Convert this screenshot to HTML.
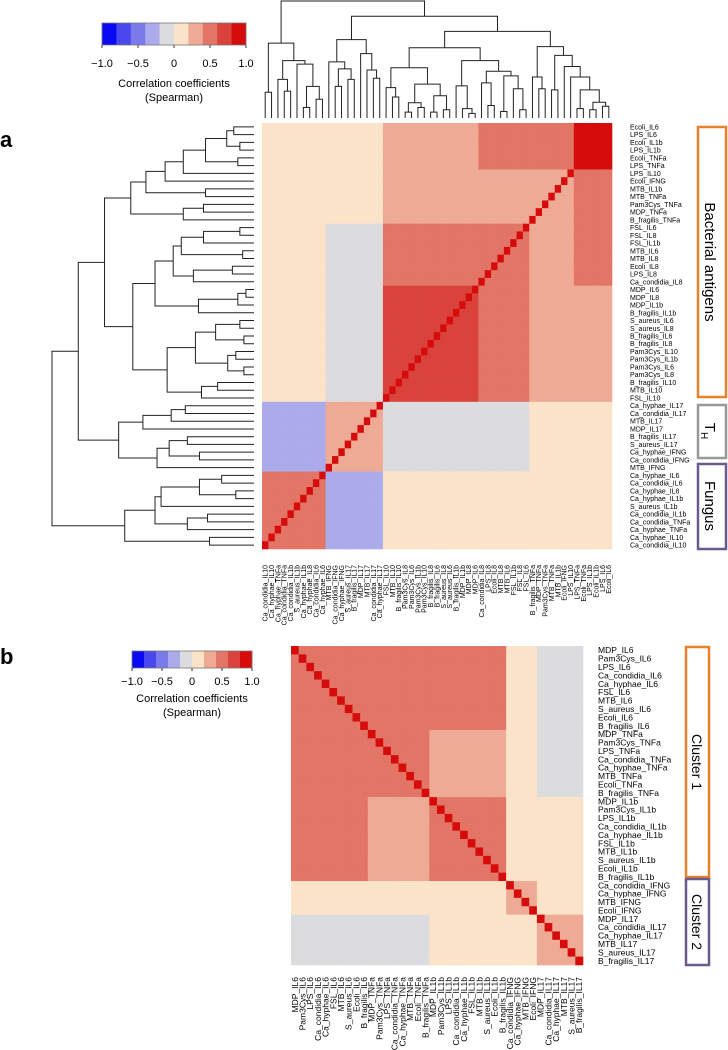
<!DOCTYPE html>
<html><head><meta charset="utf-8"><style>
body{margin:0;background:#fff;}
svg{display:block;font-family:"Liberation Sans",sans-serif;}
</style></head><body>
<svg id="fig" width="728" height="1050" viewBox="0 0 728 1050" xmlns="http://www.w3.org/2000/svg">
<text x="0" y="147" font-size="22" font-weight="bold">a</text>
<text x="0" y="664" font-size="22" font-weight="bold">b</text>
<g id="legA"></g>
<g id="legB"></g>
<g id="heatA"></g>
<g id="heatB"></g>
<g id="dendL" stroke="#222" stroke-width="1" fill="none"></g>
<g id="dendT" stroke="#222" stroke-width="1" fill="none"></g>
<g id="labels"></g>
<rect x="698" y="127" width="28" height="270" fill="none" stroke="#e8822a" stroke-width="2.5"/>
<text transform="translate(705,262) rotate(90)" text-anchor="middle" font-size="15">Bacterial antigens</text>
<rect x="698" y="405" width="28" height="53" fill="none" stroke="#999" stroke-width="2.5"/>
<text transform="translate(705,431) rotate(90)" text-anchor="middle" font-size="15">T<tspan font-size="10" dy="4">H</tspan></text>
<rect x="698" y="464" width="28" height="85" fill="none" stroke="#6a5a8e" stroke-width="2.5"/>
<text transform="translate(705,506) rotate(90)" text-anchor="middle" font-size="15">Fungus</text>
<rect x="686" y="647" width="23" height="230" fill="none" stroke="#e8822a" stroke-width="2.5"/>
<text transform="translate(692,762) rotate(90)" text-anchor="middle" font-size="14">Cluster 1</text>
<rect x="686" y="879" width="23" height="86" fill="none" stroke="#6a5a8e" stroke-width="2.5"/>
<text transform="translate(692,922) rotate(90)" text-anchor="middle" font-size="14">Cluster 2</text>
</svg>
<script>
const rowsA=["Ecoli_IL6","LPS_IL6","Ecoli_IL1b","LPS_IL1b","Ecoli_TNFa","LPS_TNFa","LPS_IL10","Ecoli_IFNG","MTB_IL1b","MTB_TNFa","Pam3Cys_TNFa","MDP_TNFa","B_fragilis_TNFa","FSL_IL6","FSL_IL8","FSL_IL1b","MTB_IL6","MTB_IL8","Ecoli_IL8","LPS_IL8","Ca_condidia_IL8","MDP_IL6","MDP_IL8","MDP_IL1b","B_fragilis_IL1b","S_aureus_IL6","S_aureus_IL8","B_fragilis_IL6","B_fragilis_IL8","Pam3Cys_IL10","Pam3Cys_IL1b","Pam3Cys_IL6","Pam3Cys_IL8","B_fragilis_IL10","MTB_IL10","FSL_IL10","Ca_hyphae_IL17","Ca_condidia_IL17","MTB_IL17","MDP_IL17","B_fragilis_IL17","S_aureus_IL17","Ca_hyphae_IFNG","Ca_condidia_IFNG","MTB_IFNG","Ca_hyphae_IL6","Ca_condidia_IL6","Ca_hyphae_IL8","Ca_hyphae_IL1b","S_aureus_IL1b","Ca_condidia_IL1b","Ca_condidia_TNFa","Ca_hyphae_TNFa","Ca_hyphae_IL10","Ca_condidia_IL10"];
const groupA=[0,0,0,0,0,0,1,1,1,1,1,1,1,2,2,2,2,2,2,2,2,3,3,3,3,3,3,3,3,3,3,3,3,3,3,3,4,4,4,4,4,4,4,4,4,5,5,5,5,5,5,5,5,5,5];
const blockA=[
[0.85,0.45,0.45,0.35,0.05,0.2],
[0.45,0.35,0.3,0.3,0.05,0.2],
[0.45,0.3,0.5,0.5,-0.05,0.18],
[0.35,0.3,0.5,0.65,-0.05,0.18],
[0.05,0.05,-0.05,-0.05,0.25,-0.22],
[0.2,0.2,0.18,0.18,-0.22,0.5]];
const rowsB=["MDP_IL6","Pam3Cys_IL6","LPS_IL6","Ca_condidia_IL6","Ca_hyphae_IL6","FSL_IL6","MTB_IL6","S_aureus_IL6","Ecoli_IL6","B_fragilis_IL6","MDP_TNFa","Pam3Cys_TNFa","LPS_TNFa","Ca_condidia_TNFa","Ca_hyphae_TNFa","MTB_TNFa","Ecoli_TNFa","B_fragilis_TNFa","MDP_IL1b","Pam3Cys_IL1b","LPS_IL1b","Ca_condidia_IL1b","Ca_hyphae_IL1b","FSL_IL1b","MTB_IL1b","S_aureus_IL1b","Ecoli_IL1b","B_fragilis_IL1b","Ca_condidia_IFNG","Ca_hyphae_IFNG","MTB_IFNG","Ecoli_IFNG","MDP_IL17","Ca_condidia_IL17","Ca_hyphae_IL17","MTB_IL17","S_aureus_IL17","B_fragilis_IL17"];
const groupB=[0,0,0,0,0,0,0,0,0,0,1,1,1,1,1,1,1,1,2,2,2,2,2,2,2,2,2,2,3,3,3,3,4,4,4,4,4,4];
const blockB=[
[0.5,0.45,0.42,0.1,-0.1],
[0.45,0.45,0.38,0.1,-0.05],
[0.42,0.38,0.45,0.15,0.05],
[0.1,0.1,0.15,0.3,0.15],
[-0.1,-0.05,0.05,0.15,0.3]];
const legendTicks=[-1.0,-0.5,0,0.5,1.0];
const tickText=["\u22121.0","\u22120.5","0","0.5","1.0"];
const treeA=[1,[0.87,[0.74,[0.61,[0.535,[0.44,[0.35,[0.24,[0.135,[0.10,0,1],[0.07,2,3]],[0.08,4,5]],6],7],[0.24,8,9]],[0.35,[0.25,10,11],12]],[0.60,[0.49,[0.40,[0.36,[0.25,[0.07,13,14],15],[0.056,16,17]],[0.30,[0.107,18,19],20]],[0.275,[0.08,[0.04,21,22],23],24]],[0.43,[0.29,[0.19,[0.07,25,26],[0.05,27,28]],[0.13,[0.09,29,30],[0.05,31,32]]],[0.26,[0.18,33,34],35]]]],[0.67,[0.55,[0.41,[0.34,36,37],38],39],[0.48,[0.42,[0.33,40,41],[0.27,42,43]],44]]],[0.64,[0.49,[0.46,[0.27,[0.16,45,46],[0.09,47,48]],49],[0.33,[0.23,50,51],52]],[0.22,53,54]]];

const colors=["#0a0af2","#4848ec","#7a7aea","#ababec","#dcdcdf","#fbe3ca","#eeaa94","#e27566","#da423c","#d60b0b"];
const NS="http://www.w3.org/2000/svg";
function colorOf(v){let i=Math.floor((v+1)/0.2);if(i<0)i=0;if(i>9)i=9;return colors[i];}
function mk(tag,attrs,parent){const e=document.createElementNS(NS,tag);for(const k in attrs)e.setAttribute(k,attrs[k]);parent.appendChild(e);return e;}

// legends
function legend(g,x0,x1,y0,y1,tickY,t1Y,t2Y,fs){
  const w=(x1-x0)/10;
  colors.forEach((c,i)=>{const r=mk('rect',{x:x0+i*w,y:y0,width:w+0.3,height:y1-y0,fill:c},g);
    
    });
  mk('rect',{x:x0,y:y0,width:x1-x0,height:y1-y0,fill:'none',stroke:'#777','stroke-width':0.8},g);
  legendTicks.forEach((t,i)=>{const x=x0+(t+1)/2*(x1-x0);
    mk('line',{x1:x,x2:x,y1:y1,y2:y1+3,stroke:'#333'},g);
    const tx=mk('text',{x:x,y:tickY,'text-anchor':'middle','font-size':fs},g);tx.textContent=tickText[i];
    
    });
  const a=mk('text',{x:(x0+x1)/2,y:t1Y,'text-anchor':'middle','font-size':fs},g);a.textContent="Correlation coefficients";
  
  
  const b=mk('text',{x:(x0+x1)/2,y:t2Y,'text-anchor':'middle','font-size':fs},g);b.textContent="(Spearman)";
  
  
}
legend(document.getElementById('legA'),102,246,23,45,67,87,101,11);
legend(document.getElementById('legB'),132,252,651,668,685,702,716,11);

// heatmap a: rows top->bottom, columns = reversed rows
const hA={x0:262,x1:612,y0:123,y1:549};
const nA=rowsA.length;
const cwA=(hA.x1-hA.x0)/nA, rhA=(hA.y1-hA.y0)/nA;
const gA=document.getElementById('heatA');
const lab=document.getElementById('labels');
for(let i=0;i<nA;i++){for(let j=0;j<nA;j++){const r2=nA-1-j;
  const v=(i===r2)?1:blockA[groupA[i]][groupA[r2]];
  const c=mk('rect',{x:(hA.x0+j*cwA).toFixed(2),y:(hA.y0+i*rhA).toFixed(2),width:(cwA+0.3).toFixed(2),height:(rhA+0.3).toFixed(2),fill:colorOf(v)},gA);
  
  }}
rowsA.forEach((n,i)=>{const t=mk('text',{x:630,y:(hA.y0+(i+0.5)*rhA+2.5).toFixed(1),'font-size':7},lab);t.textContent=n;
  
  
  const j=nA-1-i;const cx=hA.x0+(j+0.5)*cwA+2.4;
  const c=mk('text',{transform:`translate(${cx.toFixed(1)},565) rotate(-90)`,'text-anchor':'end','font-size':7},lab);c.textContent=n;
  
  });

// heatmap b: diagonal top-left to bottom-right
const hB={x0:291,x1:583,y0:646,y1:965};
const nB=rowsB.length;
const cwB=(hB.x1-hB.x0)/nB, rhB=(hB.y1-hB.y0)/nB;
const gB=document.getElementById('heatB');
for(let i=0;i<nB;i++){for(let j=0;j<nB;j++){
  const v=(i===j)?1:blockB[groupB[i]][groupB[j]];
  const c=mk('rect',{x:(hB.x0+j*cwB).toFixed(2),y:(hB.y0+i*rhB).toFixed(2),width:(cwB+0.3).toFixed(2),height:(rhB+0.3).toFixed(2),fill:colorOf(v)},gB);
  
  }}
rowsB.forEach((n,i)=>{const t=mk('text',{x:598,y:(hB.y0+(i+0.5)*rhB+3).toFixed(1),'font-size':8.5},lab);t.textContent=n;
  
  
  const cx=hB.x0+(i+0.5)*cwB+3;
  const c=mk('text',{transform:`translate(${cx.toFixed(1)},977) rotate(-90)`,'text-anchor':'end','font-size':8.5},lab);c.textContent=n;
  
  });

// dendrograms
function drawTree(node,posOf,hToC,g,horizontal){
  if(typeof node==='number')return {p:posOf(node),h:0};
  const a=drawTree(node[1],posOf,hToC,g,horizontal), b=drawTree(node[2],posOf,hToC,g,horizontal);
  const H=hToC(node[0]);
  let d;
  if(horizontal){ // left dendrogram: x=height, y=position
    d=`M${hToC(a.h)},${a.p}H${H}V${b.p}H${hToC(b.h)}`;
  } else {
    d=`M${a.p},${hToC(a.h)}V${H}H${b.p}V${hToC(b.h)}`;
  }
  const pth=mk('path',{d:d},g);
  
  
  return {p:(a.p+b.p)/2,h:node[0]};
}
drawTree(treeA,i=>hA.y0+(i+0.5)*rhA,h=>254-h*202,document.getElementById('dendL'),true);
drawTree(treeA,i=>hA.x0+(nA-1-i+0.5)*cwA,h=>118-h*117,document.getElementById('dendT'),false);
</script>
</body></html>
